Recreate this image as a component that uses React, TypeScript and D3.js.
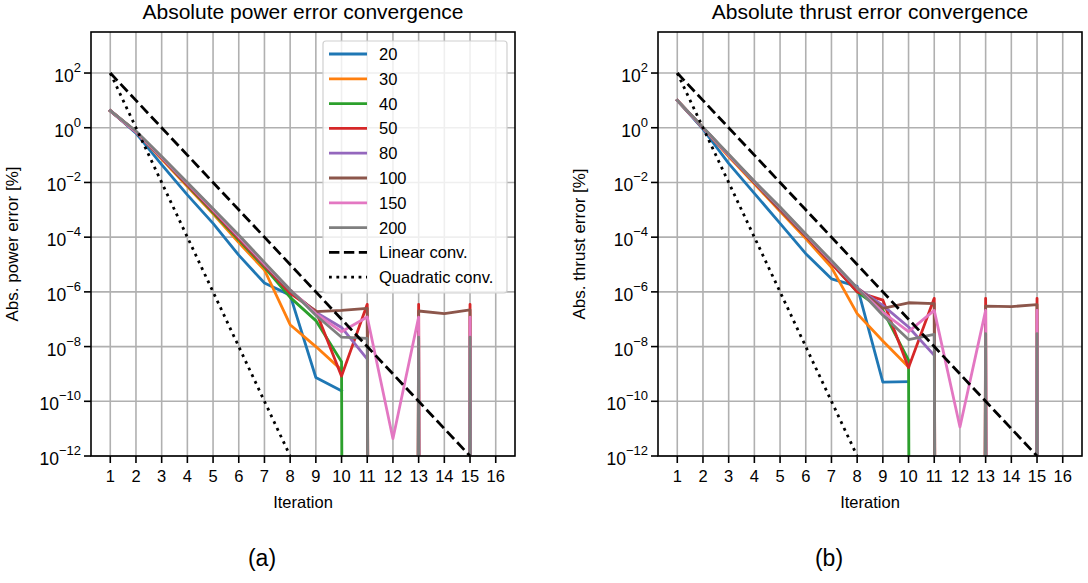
import React from "react";
import * as d3 from "d3";

// iteration axis ticks and log-decade ticks
const iterTicks = [1, 2, 3, 4, 5, 6, 7, 8, 9, 10, 11, 12, 13, 14, 15, 16];
const yExponents = [2, 0, -2, -4, -6, -8, -10, -12];

const seriesNames = ["20", "30", "40", "50", "80", "100", "150", "200"];
const seriesColors = ["#1f77b4", "#ff7f0e", "#2ca02c", "#d62728", "#9467bd", "#8c564b", "#e377c2", "#7f7f7f"];

// reference slopes (value per iteration, starting at iteration 1)
const linearConv = [1e2, 1e1, 1e0, 1e-1, 1e-2, 1e-3, 1e-4, 1e-5, 1e-6, 1e-7, 1e-8, 1e-9, 1e-10, 1e-11, 1e-12];
const quadraticConv = [1e2, 1e0, 1e-2, 1e-4, 1e-6, 1e-8, 1e-10, 1e-12];

// abs. power error [%] per iteration (0 = exactly converged)
const power20 = [4.2, 0.63, 4.5e-2, 3.5e-3, 3.2e-4, 2.2e-5, 2.1e-6, 7.6e-7, 7.4e-10, 2.4e-10];
const power30 = [4.2, 0.71, 7.1e-2, 7.1e-3, 7.1e-4, 6.3e-5, 6.3e-6, 6.3e-8, 1.0e-8, 1.4e-9];
const power40 = [4.2, 0.71, 7.9e-2, 7.9e-3, 7.9e-4, 7.9e-5, 7.9e-6, 6.3e-7, 8.9e-8, 2.8e-9, 0];
const power50 = [4.2, 0.71, 7.9e-2, 8.3e-3, 8.9e-4, 8.9e-5, 8.9e-6, 8.9e-7, 2.0e-7, 8.3e-10, 3.5e-7, 0, 3.5e-7, 0, 3.5e-7, 0];
const power80 = [4.2, 0.71, 8.3e-2, 8.9e-3, 1.0e-3, 1.0e-4, 1.0e-5, 1.1e-6, 1.8e-7, 5.0e-8, 3.5e-9];
const power100 = [4.2, 0.71, 8.3e-2, 8.9e-3, 1.0e-3, 1.0e-4, 1.0e-5, 1.1e-6, 1.9e-7, 2.1e-7, 2.5e-7, 0, 2.0e-7, 1.6e-7, 2.2e-7, 0];
const power150 = [4.2, 0.71, 8.3e-2, 9.3e-3, 1.0e-3, 1.05e-4, 1.07e-5, 1.2e-6, 1.6e-7, 3.5e-8, 1.2e-7, 4.3e-12, 1.2e-7, 0, 1.2e-7, 0];
const power200 = [4.2, 0.76, 8.9e-2, 1.0e-2, 1.1e-3, 1.2e-4, 1.2e-5, 1.2e-6, 1.4e-7, 2.2e-8, 2.0e-8, 0, 2.2e-8, 0, 2.2e-8, 0];

// abs. thrust error [%] per iteration
const thrust20 = [10, 0.89, 5.0e-2, 4.0e-3, 3.2e-4, 2.5e-5, 3.0e-6, 1.6e-6, 5.0e-10, 5.2e-10];
const thrust30 = [10, 1.0, 8.9e-2, 8.9e-3, 8.9e-4, 8.9e-5, 7.9e-6, 1.6e-7, 1.6e-8, 1.8e-9];
const thrust40 = [10, 1.0, 0.1, 1e-2, 1e-3, 1.1e-4, 1.1e-5, 1e-6, 2.1e-7, 3.2e-9, 0];
const thrust50 = [10, 1.0, 0.1, 1e-2, 1e-3, 1.1e-4, 1.1e-5, 1e-6, 5e-7, 1.7e-9, 5.8e-7, 0, 5.8e-7, 0, 5.8e-7, 0];
const thrust80 = [10, 1.0, 0.1, 1.05e-2, 1.1e-3, 1.2e-4, 1.26e-5, 1.4e-6, 3.2e-7, 5.2e-8, 4.8e-9];
const thrust100 = [10, 1.0, 0.1, 1.05e-2, 1.1e-3, 1.2e-4, 1.26e-5, 1.4e-6, 2.5e-7, 4.0e-7, 3.7e-7, 0, 3.0e-7, 2.9e-7, 3.4e-7, 0];
const thrust150 = [10, 1.0, 0.1, 1.07e-2, 1.2e-3, 1.26e-4, 1.3e-5, 1.4e-6, 1.8e-7, 3.5e-8, 2.1e-7, 1.15e-11, 2.1e-7, 0, 2.1e-7, 0];
const thrust200 = [10, 1.05, 0.107, 1.1e-2, 1.26e-3, 1.3e-4, 1.4e-5, 1.4e-6, 1.4e-7, 1.8e-8, 2.8e-8, 0, 3.0e-8, 0, 3.0e-8, 0];

const powerSeries = [power20, power30, power40, power50, power80, power100, power150, power200];
const thrustSeries = [thrust20, thrust30, thrust40, thrust50, thrust80, thrust100, thrust150, thrust200];

const FONT = "'Liberation Sans', Arial, Helvetica, sans-serif";
const TOP = 32;
const SIZE = 424;
const LW = 2.8;

type PanelProps = {
  id: string;
  left: number;
  title: string;
  yLabel: string;
  caption: string;
  series: number[][];
  legend: boolean;
};

const Panel = ({ id, left, title, yLabel, caption, series, legend }: PanelProps) => {
  const x = d3.scaleLinear().domain([0.25, 16.75]).range([left, left + SIZE]);
  const y = d3.scaleLog().domain([1e-12, Math.pow(10, 3.5)]).range([TOP + SIZE, TOP]);
  // zero values sit at -inf on a log axis -> push them far below the plot
  const line = d3
    .line<number>()
    .x((_, i) => x(i + 1))
    .y((d) => y(d > 0 ? d : 1e-300));

  const bottom = TOP + SIZE;
  const midX = left + SIZE / 2;

  const legendRows = [
    ...seriesNames.map((n, i) => ({ label: n, color: seriesColors[i], dash: "" })),
    { label: "Linear conv.", color: "#000", dash: "10.4,4.5" },
    { label: "Quadratic conv.", color: "#000", dash: "2.8,4.6" },
  ];

  return (
    <g>
      <defs>
        <clipPath id={id}>
          <rect x={left} y={TOP} width={SIZE} height={SIZE} />
        </clipPath>
      </defs>

      {/* grid */}
      {iterTicks.map((t) => (
        <line key={"gx" + t} x1={x(t)} x2={x(t)} y1={TOP} y2={bottom} stroke="#b0b0b0" strokeWidth={1.6} />
      ))}
      {yExponents.map((e) => (
        <line key={"gy" + e} x1={left} x2={left + SIZE} y1={y(Math.pow(10, e))} y2={y(Math.pow(10, e))} stroke="#b0b0b0" strokeWidth={1.6} />
      ))}

      <g clipPath={`url(#${id})`}>
        {series.map((s, i) => (
          <path key={i} d={line(s) || ""} fill="none" stroke={seriesColors[i]} strokeWidth={LW} strokeLinejoin="round" strokeLinecap="square" />
        ))}
        <path d={line(linearConv) || ""} fill="none" stroke="#000" strokeWidth={LW} strokeDasharray="10.4,4.5" />
        <path d={line(quadraticConv) || ""} fill="none" stroke="#000" strokeWidth={LW} strokeDasharray="2.8,4.6" />
      </g>

      {/* frame */}
      <rect x={left} y={TOP} width={SIZE} height={SIZE} fill="none" stroke="#000" strokeWidth={1.6} />

      {/* x ticks */}
      {iterTicks.map((t) => (
        <g key={"xt" + t}>
          <line x1={x(t)} x2={x(t)} y1={bottom} y2={bottom + 7} stroke="#000" strokeWidth={1.6} />
          <text x={x(t)} y={bottom + 26} textAnchor="middle" fontSize={16.5} fontFamily={FONT}>
            {t}
          </text>
        </g>
      ))}
      {/* y ticks */}
      {yExponents.map((e) => (
        <g key={"yt" + e}>
          <line x1={left - 7} x2={left} y1={y(Math.pow(10, e))} y2={y(Math.pow(10, e))} stroke="#000" strokeWidth={1.6} />
          <text x={left - 10} y={y(Math.pow(10, e)) + 9} textAnchor="end" fontSize={17.5} fontFamily={FONT}>
            10
            <tspan dy={-10} fontSize={13}>
              {e < 0 ? "\u2212" + Math.abs(e) : String(e)}
            </tspan>
          </text>
        </g>
      ))}

      <text x={midX} y={19} textAnchor="middle" fontSize={21} fontFamily={FONT}>
        {title}
      </text>
      <text x={midX} y={508} textAnchor="middle" fontSize={16.5} fontFamily={FONT}>
        Iteration
      </text>
      <text
        transform={`translate(${left - 73},${TOP + SIZE / 2}) rotate(-90)`}
        textAnchor="middle"
        fontSize={17}
        fontFamily={FONT}
      >
        {yLabel}
      </text>
      <text x={left + 171} y={566} textAnchor="middle" fontSize={23} fontFamily={FONT}>
        {caption}
      </text>

      {legend && (
        <g>
          <rect x={left + 232} y={41} width={184} height={252} rx={3} fill="#fff" fillOpacity={0.8} stroke="#d0d0d0" strokeWidth={1.2} />
          {legendRows.map((r, i) => {
            const ry = 54 + i * 24.8;
            return (
              <g key={r.label}>
                <line x1={left + 238} x2={left + 276} y1={ry} y2={ry} stroke={r.color} strokeWidth={LW} strokeDasharray={r.dash || undefined} />
                <text x={left + 288} y={ry + 6} fontSize={16.5} fontFamily={FONT}>
                  {r.label}
                </text>
              </g>
            );
          })}
        </g>
      )}
    </g>
  );
};

export default function App() {
  return (
    <svg width={1088} height={583} style={{ position: "absolute", left: 0, top: 0, background: "#fff" }}>
      <rect width={1088} height={583} fill="#fff" />
      <Panel
        id="clipA"
        left={91}
        title="Absolute power error convergence"
        yLabel="Abs. power error [%]"
        caption="(a)"
        series={powerSeries}
        legend={true}
      />
      <Panel
        id="clipB"
        left={658}
        title="Absolute thrust error convergence"
        yLabel="Abs. thrust error [%]"
        caption="(b)"
        series={thrustSeries}
        legend={false}
      />
    </svg>
  );
}
